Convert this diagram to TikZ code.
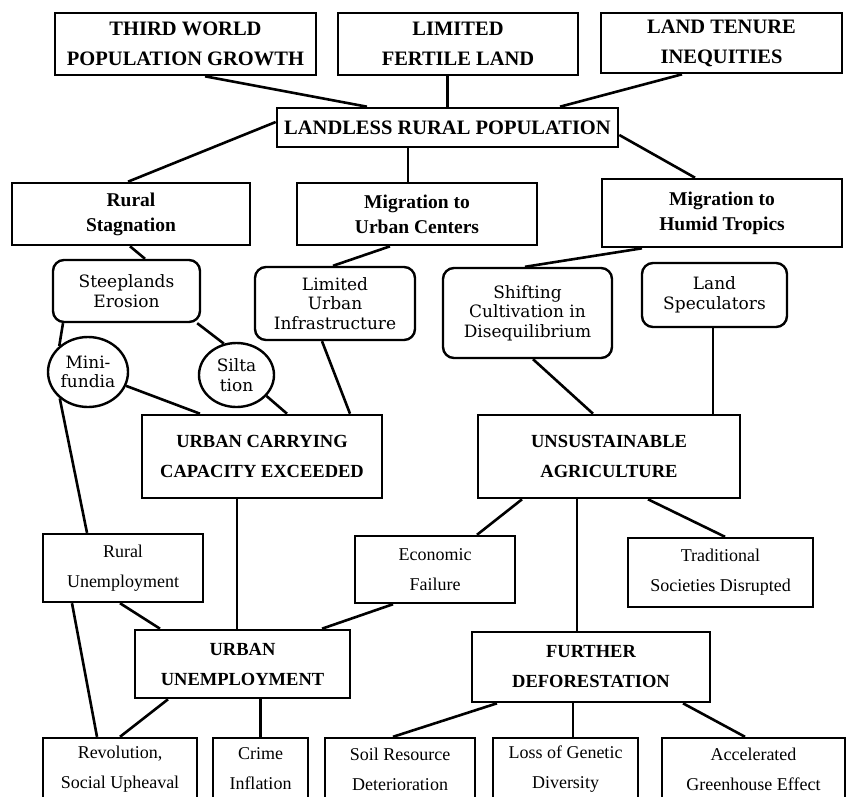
\documentclass[tikz,border=0pt]{standalone}
\usepackage{fontspec}
\setmainfont{Liberation Serif}
\newfontfamily\roundfont{DejaVu Serif}
\usetikzlibrary{shapes.geometric}

\tikzset{
  wh/.style 2 args={minimum width=#1pt, minimum height=#2pt},
  headbox/.style={draw, line width=2.6pt, align=center, inner sep=0pt,
    font=\bfseries\fontsize{20.5}{30}\selectfont},
  pathbox/.style={draw, line width=2.6pt, align=center, inner sep=0pt,
    font=\bfseries\fontsize{19.5}{25}\selectfont},
  softbox/.style={draw, line width=2.4pt, rounded corners=11pt, align=center,
    inner sep=0pt, font=\roundfont\fontsize{17}{19.5}\selectfont},
  blob/.style={draw, ellipse, line width=2.4pt, align=center, inner sep=0pt,
    font=\roundfont\fontsize{17}{19.5}\selectfont},
  stagebox/.style={draw, line width=2.6pt, align=center, inner sep=0pt,
    font=\bfseries\fontsize{18.5}{30}\selectfont},
  effectbox/.style={draw, line width=2.4pt, align=center, inner sep=0pt,
    font=\fontsize{18}{30}\selectfont},
  link/.style={line width=2.6pt}
}

\begin{document}
\begin{tikzpicture}[x=1pt, y=-1pt]
      \useasboundingbox (0,0) rectangle (849,796);
      \draw
        (185.5,44) node[headbox, wh={261}{62}] (tw) {THIRD WORLD\\POPULATION GROWTH}
        (458,44) node[headbox, wh={240}{62}] (lfl) {LIMITED\\FERTILE LAND}
        (721.5,43) node[headbox, wh={241}{60}] (lti) {LAND TENURE\\INEQUITIES}
        (447.5,127.5) node[headbox, wh={341}{39}] (lrp) {LANDLESS RURAL POPULATION}
        (131,214) node[pathbox, wh={238}{62}] (rs) {Rural\\Stagnation}
        (417,214) node[pathbox, wh={240}{62}] (mu) {Migration to\\Urban Centers}
        (722,213) node[pathbox, wh={240}{68}] (mh) {Migration to\\Humid Tropics}
        (126.5,291) node[softbox, wh={147}{62}] (se) {Steeplands\\Erosion}
        (335,303.5) node[softbox, wh={160}{73}] (lui) {Limited\\Urban\\Infrastructure}
        (527.5,313) node[softbox, wh={169}{90}] (scd) {Shifting\\Cultivation in\\Disequilibrium}
        (714.5,295) node[softbox, wh={145}{64}] (ls) {Land\\Speculators}
        (88,372) node[blob, wh={80}{70}] (mf) {Mini-\\fundia}
        (236.5,375) node[blob, wh={75}{64}] (si) {Silta\\tion}
        (262,456.5) node[stagebox, wh={240}{83}] (ucce) {URBAN CARRYING\\CAPACITY EXCEEDED}
        (609,456.5) node[stagebox, wh={262}{83}] (ua) {UNSUSTAINABLE\\AGRICULTURE}
        (123,568) node[effectbox, wh={160}{68}] (ru) {Rural\\Unemployment}
        (435,569.5) node[effectbox, wh={160}{67}] (ef) {Economic\\Failure}
        (720.5,572.5) node[effectbox, wh={185}{69}] (tsd) {Traditional\\Societies Disrupted}
        (242.5,664) node[stagebox, wh={215}{68}] (uu) {URBAN\\UNEMPLOYMENT}
        (591,667) node[stagebox, wh={238}{70}] (fd) {FURTHER\\DEFORESTATION}
        (120,769) node[effectbox, wh={154}{62}] (rev) {Revolution,\\Social Upheaval}
        (260.5,769) node[effectbox, wh={95}{62}] (ci) {Crime\\Inflation}
        (400,769) node[effectbox, wh={150}{62}] (sr) {Soil Resource\\Deterioration}
        (565.5,769) node[effectbox, wh={145}{62}] (lg) {Loss of Genetic\\Diversity}
        (753.5,769) node[effectbox, wh={183}{62}] (ag) {Accelerated\\Greenhouse Effect};
      \begin{scope}[link]
        \draw ([xshift=19.5pt]tw.south) to ([xshift=-80.5pt]lrp.north);
        \draw (lfl.south -| lrp.north) to (lrp.north);
        \draw ([xshift=-39.5pt]lti.south) to ([xshift=112.5pt]lrp.north);
        \draw ([yshift=5.5pt]lrp.west) to ([xshift=-3pt]rs.north);
        \draw ([xshift=-39.5pt]lrp.south) to ([xshift=-9pt]mu.north);
        \draw ([yshift=-7.5pt]lrp.east) to ([xshift=-27pt]mh.north);
        \draw ([xshift=-1pt]rs.south) to ([xshift=18.5pt]se.north);
        \draw ([xshift=-27pt]mu.south) to ([xshift=-2pt]lui.north);
        \draw ([xshift=-80pt]mh.south) to ([xshift=-2.5pt]scd.north);
        \draw ([xshift=-63.5pt]se.south) to (mf.138);
        \draw ([xshift=-4pt]se.south east) to (si.112);
        \draw (mf.-20) to ([xshift=-62pt]ucce.north);
        \draw (si.-35) to ([xshift=25pt]ucce.north);
        \draw ([xshift=-13pt]lui.south) to ([xshift=88pt]ucce.north);
        \draw (mf.-137) to ([xshift=-36pt]ru.north);
        \draw ([xshift=-25pt]ucce.south) to ([xshift=-5.5pt]uu.north);
        \draw ([xshift=5.5pt]scd.south) to ([xshift=-16pt]ua.north);
        \draw ([xshift=-1.5pt]ls.south) to ([xshift=-1.5pt]ls.south |- ua.north);
        \draw ([xshift=-87pt]ua.south) to ([xshift=42pt]ef.north);
        \draw ([xshift=-32pt]ua.south) to ([xshift=-14pt]fd.north);
        \draw ([xshift=39pt]ua.south) to ([xshift=4.5pt]tsd.north);
        \draw ([xshift=-3pt]ru.south) to ([xshift=-82.5pt]uu.north);
        \draw ([xshift=-51pt]ru.south) to ([xshift=-23pt]rev.north);
        \draw ([xshift=-42pt]ef.south) to ([xshift=79.5pt]uu.north);
        \draw ([xshift=-74.5pt]uu.south) to (rev.north);
        \draw (ci.north |- uu.south) to (ci.north);
        \draw ([xshift=-94pt]fd.south) to ([xshift=-7pt]sr.north);
        \draw ([xshift=-18pt]fd.south) to ([xshift=7.5pt]lg.north);
        \draw ([xshift=92pt]fd.south) to ([xshift=-8.5pt]ag.north);
      \end{scope}
    \end{tikzpicture}
\end{document}
